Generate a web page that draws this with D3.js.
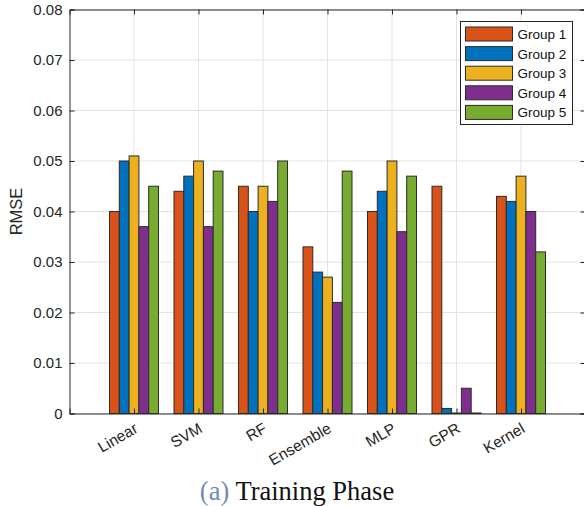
<!DOCTYPE html>
<html>
<head>
<meta charset="utf-8">
<script src="https://cdn.jsdelivr.net/npm/d3@7"></script>
<style>
  body { margin: 0; background: #fff; }
  svg { display: block; }
</style>
</head>
<body>
<div id="chart"></div>
<script>
const width = 584, height = 506;

// chart data
const methods = ["Linear", "SVM", "RF", "Ensemble", "MLP", "GPR", "Kernel"];
const groups = ["Group 1", "Group 2", "Group 3", "Group 4", "Group 5"];
const group1 = [0.040, 0.044, 0.045, 0.033, 0.040, 0.045, 0.043];
const group2 = [0.050, 0.047, 0.040, 0.028, 0.044, 0.001, 0.042];
const group3 = [0.051, 0.050, 0.045, 0.027, 0.050, 0.0001, 0.047];
const group4 = [0.037, 0.037, 0.042, 0.022, 0.036, 0.005, 0.040];
const group5 = [0.045, 0.048, 0.050, 0.048, 0.047, 0.0001, 0.032];
const yTicks = [0, 0.01, 0.02, 0.03, 0.04, 0.05, 0.06, 0.07, 0.08];

const series = [group1, group2, group3, group4, group5];
const colors = ["#D95319", "#0072BD", "#EDB120", "#7E2F8E", "#77AC30"];
const axisColor = "#262626";

let svg = d3.select("#chart")
    .append("svg")
    .attr("width", width)
    .attr("height", height)
    .style("font-family", "Liberation Sans, Arial, sans-serif");

// plot box (right edge falls just off the picture, as in the original)
const plotLeft = 69.5, plotRight = 585.5, plotTop = 9.5, plotBottom = 413.5;

// MATLAB-like x limits: 0 .. n+1
let x = d3.scaleLinear().domain([0, methods.length + 1]).range([plotLeft, plotRight]);
let y = d3.scaleLinear().domain([0, 0.08]).range([plotBottom, plotTop]);
let xInner = d3.scaleBand().domain(d3.range(groups.length)).range([-24.5, 24.5]);

// grid
let grid = svg.append("g");
grid.selectAll("line.gy")
    .data(yTicks)
    .enter()
    .append("line")
    .attr("x1", plotLeft).attr("x2", plotRight)
    .attr("y1", d => y(d)).attr("y2", d => y(d))
    .attr("stroke", "#e3e3e3");
grid.selectAll("line.gx")
    .data(methods)
    .enter()
    .append("line")
    .attr("x1", (d, i) => x(i + 1)).attr("x2", (d, i) => x(i + 1))
    .attr("y1", plotTop).attr("y2", plotBottom)
    .attr("stroke", "#e3e3e3");

// bars
series.forEach(function(vals, g) {
    svg.append("g")
        .selectAll("rect")
        .data(vals)
        .enter()
        .append("rect")
        .attr("x", (d, i) => x(i + 1) + xInner(g))
        .attr("width", xInner.bandwidth())
        .attr("y", d => y(d))
        .attr("height", d => y(0) - y(d))
        .attr("fill", colors[g])
        .attr("stroke", "#2b2b2b")
        .attr("stroke-width", 1);
});

// axes with inward ticks
let tickLen = 5;
let yAxisL = d3.axisLeft(y).tickValues(yTicks).tickSize(-tickLen).tickPadding(7)
    .tickFormat(d => d === 0 ? "0" : d3.format(".2f")(d));
let yAxisR = d3.axisRight(y).tickValues(yTicks).tickSize(-tickLen).tickFormat("");
let xAxisB = d3.axisBottom(x).tickValues(d3.range(1, methods.length + 1)).tickSize(-tickLen).tickFormat("");
let xAxisT = d3.axisTop(x).tickValues(d3.range(1, methods.length + 1)).tickSize(-tickLen).tickFormat("");

function styleAxis(g) {
    g.select(".domain").attr("stroke", axisColor);
    g.selectAll(".tick line").attr("stroke", axisColor);
    g.selectAll("text").attr("fill", axisColor).style("font-size", "15px")
        .style("font-family", "Liberation Sans, Arial, sans-serif");
}

svg.append("g").attr("transform", `translate(${plotLeft},0)`).call(yAxisL).call(styleAxis);
svg.append("g").attr("transform", `translate(${plotRight},0)`).call(yAxisR).call(styleAxis);
svg.append("g").attr("transform", `translate(0,${plotBottom})`).call(xAxisB).call(styleAxis);
svg.append("g").attr("transform", `translate(0,${plotTop})`).call(xAxisT).call(styleAxis);

// rotated category labels
svg.append("g")
    .selectAll("text")
    .data(methods)
    .enter()
    .append("text")
    .attr("transform", (d, i) => `translate(${x(i + 1) + 5}, ${plotBottom + 18}) rotate(-30)`)
    .attr("text-anchor", "end")
    .style("font-size", "15.5px")
    .attr("fill", axisColor)
    .text(d => d);

// y label
svg.append("text")
    .attr("transform", `translate(22, ${(plotTop + plotBottom) / 2}) rotate(-90)`)
    .attr("text-anchor", "middle")
    .style("font-size", "16.5px")
    .attr("fill", axisColor)
    .text("RMSE");

// legend
let legend = svg.append("g").attr("transform", "translate(460.5, 21.5)");
legend.append("rect")
    .attr("width", 112).attr("height", 103)
    .attr("fill", "#fff").attr("stroke", axisColor).attr("stroke-width", 1);
let items = legend.selectAll("g.item")
    .data(groups)
    .enter()
    .append("g")
    .attr("transform", (d, i) => `translate(5, ${12.5 + i * 19.6})`);
items.append("rect")
    .attr("x", 0).attr("y", -7)
    .attr("width", 47).attr("height", 14)
    .attr("fill", (d, i) => colors[i])
    .attr("stroke", "#2b2b2b");
items.append("text")
    .attr("x", 52).attr("y", 5)
    .style("font-size", "13.5px")
    .attr("fill", "#111")
    .text(d => d);

// caption
let cap = svg.append("text")
    .attr("x", 297).attr("y", 500)
    .attr("text-anchor", "middle")
    .style("font-family", "Liberation Serif, DejaVu Serif, serif")
    .style("font-size", "26.5px");
cap.append("tspan").attr("fill", "#6f8db0").text("(a)");
cap.append("tspan").attr("fill", "#111").text(" Training Phase");
</script>
</body>
</html>
